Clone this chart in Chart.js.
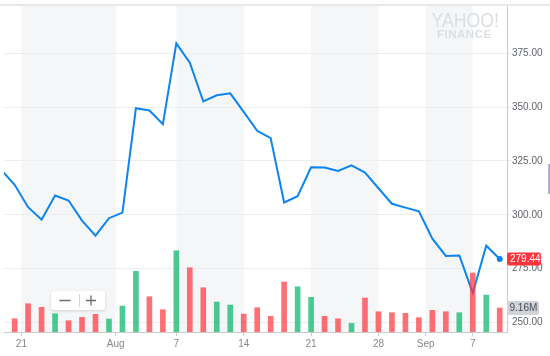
<!DOCTYPE html>
<html><head><meta charset="utf-8">
<script src="https://cdn.jsdelivr.net/npm/chart.js@4.4.0/dist/chart.umd.min.js"></script>
<style>html,body{margin:0;padding:0;background:#fff;overflow:hidden}#wrap{width:550px;height:356px;position:relative}</style>
</head><body><div id="wrap"><canvas id="c" width="550" height="356"></canvas></div>
<script>
// trading days (first entry lies just left of the visible window)
const dates = ['Jul 19','Jul 20','Jul 21','Jul 24','Jul 25','Jul 26','Jul 27','Jul 28','Jul 31','Aug 1','Aug 2','Aug 3','Aug 4','Aug 7','Aug 8','Aug 9','Aug 10','Aug 11','Aug 14','Aug 15','Aug 16','Aug 17','Aug 18','Aug 21','Aug 22','Aug 23','Aug 24','Aug 25','Aug 28','Aug 29','Aug 30','Aug 31','Sep 1','Sep 5','Sep 6','Sep 7','Sep 8','Sep 11'];
const closes = [320.8,313.9,303.5,297.7,308.9,306.6,297.3,290.3,298.4,301.0,349.5,348.4,342.1,379.6,370.6,352.6,355.5,356.4,347.8,339.0,335.6,305.7,308.6,322.0,321.9,320.3,322.9,319.6,312.3,305.1,303.3,301.6,288.9,280.9,281.1,263.7,285.6,279.44];
const volumesM = [null,5.08,10.8,9.43,6.99,4.31,5.61,6.76,4.96,9.92,23.17,13.47,8.51,31.03,24.54,16.91,11.45,10.31,6.87,9.28,5.99,19.09,17.29,13.25,5.99,5.08,3.32,12.98,7.75,7.37,7.14,5.46,8.28,7.75,7.37,22.52,14.12,9.16];
const priceTicks = [250,275,300,325,350,375];
const xTickPos = [0.5,7.5,12,17,22,27,30.5,34];
const xTickLabels = ['21','Aug','7','14','21','28','Sep','7'];

const FONT = 'Liberation Sans, Arial, sans-serif';
const BLUE = '#0c84f2';
const last = closes.length - 1;

const lineData = closes.map((c,i)=>({x:i-1,y:c}));
const volData = volumesM.map((v,i)=>({x:i-1,y:v}));
const volColors = closes.map((c,i)=> i>0 && c>=closes[i-1] ? 'rgba(0,180,100,0.7)' : 'rgba(255,51,58,0.7)');

const deco = {
  id:'deco',
  beforeDraw(chart){
    const {ctx, chartArea:a, scales:{x}} = chart;
    ctx.save();
    ctx.fillStyle='#e8e9eb';
    ctx.fillRect(0,4,chart.width,2);
    ctx.fillStyle='#f5f6f7';
    for(let i=0;i+1<xTickPos.length;i+=2){
      const x1=x.getPixelForValue(xTickPos[i]), x2=x.getPixelForValue(xTickPos[i+1]);
      ctx.fillRect(x1,a.top,x2-x1,a.bottom-a.top);
    }
    // watermark
    ctx.fillStyle='#dcdfe2';
    ctx.font='21px '+FONT;
    ctx.textBaseline='alphabetic';
    ctx.textAlign='left';
    ctx.fillText('YAHOO!',431.5,26.7,67.5);
    ctx.font='bold 11.5px '+FONT;
    try{ctx.letterSpacing='0.5px';}catch(e){}
    ctx.fillText('FINANCE',437,38.4,55);
    try{ctx.letterSpacing='0px';}catch(e){}
    ctx.restore();
  },
  afterDraw(chart){
    const {ctx, chartArea:a, scales:{y, yv}} = chart;
    ctx.save();
    // last price label
    const py = y.getPixelForValue(closes[last]);
    ctx.fillStyle='#ff333a';
    ctx.beginPath(); ctx.roundRect(a.right, py-6.5, 34, 13, 2); ctx.fill();
    ctx.fillStyle='#fff';
    ctx.font='10px '+FONT; ctx.textBaseline='middle'; ctx.textAlign='left';
    ctx.fillText(closes[last].toFixed(2), a.right+3, py+0.5);
    // volume label
    const vy = yv.getPixelForValue(volumesM[last]);
    ctx.fillStyle='#d0d3d7';
    ctx.beginPath(); ctx.roundRect(a.right, vy-7, 32, 14, 2); ctx.fill();
    ctx.fillStyle='#474d54';
    ctx.fillText(volumesM[last].toFixed(2)+'M', a.right+2.5, vy+0.5);
    // zoom control
    ctx.shadowColor='rgba(0,0,0,0.15)'; ctx.shadowBlur=3; ctx.shadowOffsetY=1;
    ctx.fillStyle='#fff';
    ctx.beginPath(); ctx.roundRect(51,291,54,19,3); ctx.fill();
    ctx.shadowColor='transparent';
    ctx.strokeStyle='#6b6b6b'; ctx.lineWidth=1.3;
    ctx.beginPath(); ctx.moveTo(59.5,300.5); ctx.lineTo(70.5,300.5);
    ctx.moveTo(86,300.5); ctx.lineTo(96,300.5); ctx.moveTo(91,295.5); ctx.lineTo(91,305.5); ctx.stroke();
    ctx.strokeStyle='#d5d5d5'; ctx.lineWidth=1;
    ctx.beginPath(); ctx.moveTo(79.5,294); ctx.lineTo(79.5,307); ctx.stroke();
    // right-edge marker
    ctx.fillStyle='#7376c6';
    ctx.fillRect(548.5,164,1.2,30);
    ctx.restore();
  }
};

new Chart(document.getElementById('c'), {
  data:{
    datasets:[
      {type:'bar', data:volData, yAxisID:'yv', backgroundColor:volColors, barThickness:5, order:0},
      {type:'line', data:lineData, yAxisID:'y', borderColor:BLUE, borderWidth:2, tension:0,
       pointRadius:(c)=>c.dataIndex===last?3:0, pointBackgroundColor:BLUE, pointBorderWidth:0, order:1}
    ]
  },
  options:{
    responsive:false, animation:false, devicePixelRatio:1,
    layout:{padding:{top:6,left:0,right:0,bottom:0}},
    plugins:{legend:{display:false}, tooltip:{enabled:false}},
    scales:{
      x:{type:'linear', position:'bottom', min:-0.79, max:36.54, offset:false,
        afterBuildTicks:(s)=>{s.ticks=xTickPos.map(v=>({value:v}));},
        afterFit:(s)=>{s.height=24; s.paddingLeft=0; s.paddingRight=0;},
        ticks:{autoSkip:false, maxRotation:0, padding:2, color:'#85898e', font:{family:FONT,size:10},
          callback:(v,i)=>xTickLabels[i]},
        grid:{drawOnChartArea:false, drawTicks:true, tickLength:4, color:'#cccccc', offset:false},
        border:{display:true, color:'#cccccc'}
      },
      y:{type:'linear', position:'right', min:245.55, max:396.95,
        afterBuildTicks:(s)=>{s.ticks=priceTicks.map(v=>({value:v}));},
        afterFit:(s)=>{s.width=43; s.paddingTop=0; s.paddingBottom=0;},
        ticks:{padding:1, color:'#5f6368', font:{family:FONT,size:10}, callback:(v)=>Number(v).toFixed(2)},
        grid:{color:'#ebedef', drawTicks:true, tickLength:4},
        border:{display:true, color:'#cccccc'}
      },
      yv:{type:'linear', display:false, min:0, max:124.55}
    }
  },
  plugins:[deco]
});
</script>
</body></html>
